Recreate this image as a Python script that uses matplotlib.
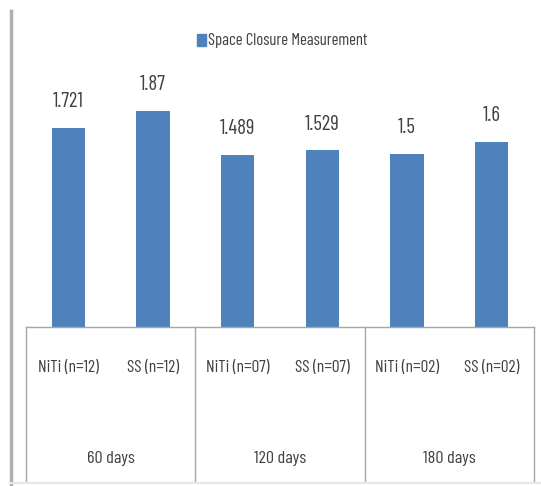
import matplotlib.pyplot as plt
from matplotlib.lines import Line2D
from matplotlib.patches import Rectangle

plt.rcParams['font.family'] = ['Barlow Condensed', 'Roboto Condensed', 'Archivo Narrow', 'DejaVu Sans']

groups = ["60 days", "120 days", "180 days"]
categories = ["NiTi (n=12)", "SS (n=12)", "NiTi (n=07)", "SS (n=07)", "NiTi (n=02)", "SS (n=02)"]
values = [1.721, 1.87, 1.489, 1.529, 1.5, 1.6]
value_labels = ["1.721", "1.87", "1.489", "1.529", "1.5", "1.6"]

W, H = 541, 486
blue = "#4F81BD"
txt = "#404040"
grid = "#A6A6A6"

fig = plt.figure(figsize=(W / 100, H / 100), dpi=100)
# plot area in pixel terms: x 26..534, baseline at 327, 2.0 at 96
left, right, base, top = 26, 534, 327, 96
ax = fig.add_axes([left / W, 1 - base / H, (right - left) / W, (base - top) / H])

x = list(range(len(categories)))
ax.bar(x, values, width=0.39, color=blue, zorder=2)
ax.set_xlim(-0.5, len(categories) - 0.5)
ax.set_ylim(0, 2.0)

for s in ["left", "right", "top"]:
    ax.spines[s].set_visible(False)
ax.spines["bottom"].set_color(grid)
ax.spines["bottom"].set_linewidth(1.0)
ax.set_xticks([])
ax.set_yticks([])

for xi, v, lab in zip(x, values, value_labels):
    ax.annotate(lab, (xi, v), xytext=(0, 19), textcoords="offset points",
                ha="center", va="center", fontsize=15, color=txt)

ax_h = base - top
trans = ax.get_xaxis_transform()
for xi, c in zip(x, categories):
    ax.text(xi, -(368 - base) / ax_h, c, transform=trans, ha="center", va="center",
            fontsize=12.5, color=txt, clip_on=False)

for gi, g in enumerate(groups):
    ax.text(2 * gi + 0.5, -(458 - base) / ax_h, g, transform=trans, ha="center",
            va="center", fontsize=13, color=txt, clip_on=False)

# separators between the day groups
for sx in [-0.5, 1.5, 3.5, 5.5]:
    ax.plot([sx, sx], [0, -(481 - base) / ax_h], transform=trans, color=grid,
            lw=1.0, clip_on=False)

# legend
fig.patches.append(Rectangle((197 / W, 1 - 46 / H), 9 / W, 12 / H,
                             transform=fig.transFigure, color=blue))
fig.text(208 / W, 1 - 40 / H, "Space Closure Measurement", ha="left", va="center",
         fontsize=12, color=txt)

# outer frame edges
fig.add_artist(Line2D([10.5 / W, 10.5 / W], [1 - 11 / H, 1 - 485 / H], color="#B0B0B0", lw=2.5))
fig.add_artist(Line2D([10 / W, 541 / W], [1 - 483 / H, 1 - 483 / H], color="#E6E6E6", lw=1.5))

fig.savefig("out.png", dpi=100)
